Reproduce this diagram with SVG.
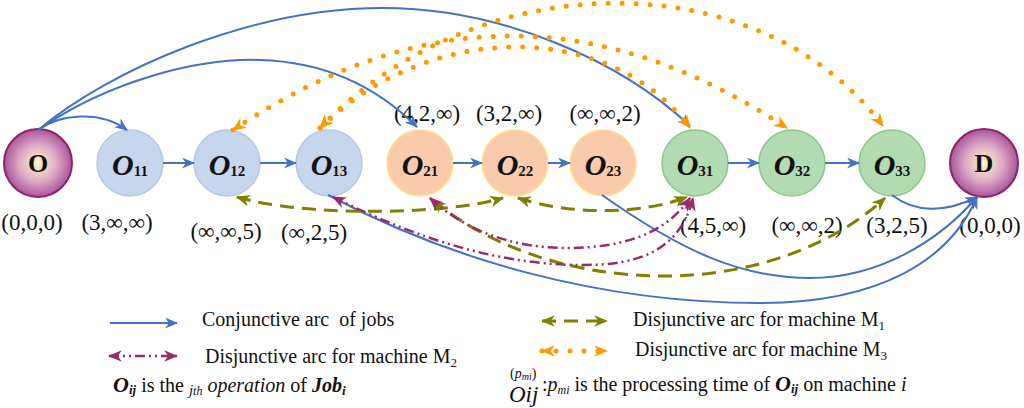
<svg xmlns="http://www.w3.org/2000/svg" width="1024" height="408" viewBox="0 0 1024 408">
<style>
text{font-family:"Liberation Serif","Times New Roman",serif;fill:#111}
.lbl{font-size:23px;text-anchor:middle}
.nt{font-size:30px;font-weight:bold;font-style:italic;text-anchor:middle}
.nt .s{font-size:15px;font-style:normal}
.tn{font-size:26px;font-weight:bold;text-anchor:middle}
.lg{font-size:20px}
.blue{fill:none;stroke:#4472C4;stroke-width:2}
.olive{fill:none;stroke:#808000;stroke-width:3;stroke-dasharray:14 8}
.maroon{fill:none;stroke:#9A2B6A;stroke-width:2.5;stroke-dasharray:10 4 2 4 2 4}
.orange{fill:none;stroke:#FF9900;stroke-width:5;stroke-linecap:round;stroke-dasharray:0 14}
.jb{fill:#C6D6EC;stroke:#B4C7E7;stroke-width:1.5}
.jp{fill:#F9CBAC;stroke:#FFE38A;stroke-width:1.5}
.jg{fill:#B2DBB2;stroke:#8CC68C;stroke-width:1.5}
.term{fill:url(#tg);stroke:#8E2462;stroke-width:2}
</style>
<defs>
<radialGradient id="tg" cx="0.5" cy="0.5" r="0.5">
<stop offset="0" stop-color="#FFF8C6"/>
<stop offset="0.55" stop-color="#DDA9C6"/>
<stop offset="1" stop-color="#A8559C"/>
</radialGradient>
<marker id="ab" viewBox="0 0 12 10" refX="11" refY="5" markerWidth="13" markerHeight="11" orient="auto-start-reverse" markerUnits="userSpaceOnUse"><path d="M0,0 L12,5 L0,10 L3.5,5 z" fill="#4472C4"/></marker>
<marker id="ao" viewBox="0 0 12 10" refX="11" refY="5" markerWidth="14" markerHeight="12" orient="auto-start-reverse" markerUnits="userSpaceOnUse"><path d="M0,0 L12,5 L0,10 L3.5,5 z" fill="#FF9900"/></marker>
<marker id="av" viewBox="0 0 12 10" refX="11" refY="5" markerWidth="14" markerHeight="12" orient="auto-start-reverse" markerUnits="userSpaceOnUse"><path d="M0,0 L12,5 L0,10 L3.5,5 z" fill="#808000"/></marker>
<marker id="am" viewBox="0 0 12 10" refX="11" refY="5" markerWidth="14" markerHeight="12" orient="auto-start-reverse" markerUnits="userSpaceOnUse"><path d="M0,0 L12,5 L0,10 L3.5,5 z" fill="#9A2B6A"/></marker>
</defs>

<g id="nodes">
<g id="node-O"><circle class="term" cx="38" cy="163" r="34"/><text class="tn" x="38" y="172">O</text></g>
<g id="node-O11"><circle class="jb" cx="130" cy="163" r="33"/><text class="nt" x="130" y="175">O<tspan class="s" dy="1">11</tspan></text></g>
<g id="node-O12"><circle class="jb" cx="227" cy="163" r="33"/><text class="nt" x="227" y="175">O<tspan class="s" dy="1">12</tspan></text></g>
<g id="node-O13"><circle class="jb" cx="329" cy="163" r="33"/><text class="nt" x="329" y="175">O<tspan class="s" dy="1">13</tspan></text></g>
<g id="node-O21"><circle class="jp" cx="420" cy="163" r="33"/><text class="nt" x="420" y="175">O<tspan class="s" dy="1">21</tspan></text></g>
<g id="node-O22"><circle class="jp" cx="515" cy="163" r="33"/><text class="nt" x="515" y="175">O<tspan class="s" dy="1">22</tspan></text></g>
<g id="node-O23"><circle class="jp" cx="603" cy="163" r="33"/><text class="nt" x="603" y="175">O<tspan class="s" dy="1">23</tspan></text></g>
<g id="node-O31"><circle class="jg" cx="695" cy="163" r="33"/><text class="nt" x="695" y="175">O<tspan class="s" dy="1">31</tspan></text></g>
<g id="node-O32"><circle class="jg" cx="792" cy="163" r="33"/><text class="nt" x="792" y="175">O<tspan class="s" dy="1">32</tspan></text></g>
<g id="node-O33"><circle class="jg" cx="892" cy="163" r="33"/><text class="nt" x="892" y="175">O<tspan class="s" dy="1">33</tspan></text></g>
<g id="node-D"><circle class="term" cx="984" cy="163" r="34"/><text class="tn" x="984" y="172">D</text></g>
</g>

<g id="labels">
<text class="lbl" x="32" y="230">(0,0,0)</text>
<text class="lbl" x="117" y="230">(3,∞,∞)</text>
<text class="lbl" x="226" y="239">(∞,∞,5)</text>
<text class="lbl" x="314" y="240">(∞,2,5)</text>
<text class="lbl" x="427" y="121">(4,2,∞)</text>
<text class="lbl" x="509" y="121">(3,2,∞)</text>
<text class="lbl" x="605" y="121">(∞,∞,2)</text>
<text class="lbl" x="713" y="233">(4,5,∞)</text>
<text class="lbl" x="807" y="233">(∞,∞,2)</text>
<text class="lbl" x="897" y="233">(3,2,5)</text>
<text class="lbl" x="990" y="233">(0,0,0)</text>
</g>

<g id="connectors">
<path class="blue" marker-end="url(#ab)" d="M38,130 C60,114 100,110 127,130"/>
<path class="blue" marker-end="url(#ab)" d="M38,130 C110,80 200,58 260,60 C330,62 380,90 417,127"/>
<path class="blue" marker-end="url(#ab)" d="M38,130 C110,70 250,8 383,8 C500,8 620,60 690,126"/>
<path class="blue" marker-end="url(#ab)" d="M163,163 L194,163"/>
<path class="blue" marker-end="url(#ab)" d="M260,163 L296,163"/>
<path class="blue" marker-end="url(#ab)" d="M453,163 L482,163"/>
<path class="blue" marker-end="url(#ab)" d="M548,163 L570,163"/>
<path class="blue" marker-end="url(#ab)" d="M728,163 L759,163"/>
<path class="blue" marker-end="url(#ab)" d="M825,163 L859,163"/>
<path class="blue" marker-end="url(#ab)" d="M328,195 C450,260 600,303 760,303 C880,303 950,260 977,197"/>
<path class="blue" marker-end="url(#ab)" d="M602,195 C680,250 740,278 810,278 C880,278 940,240 977,197"/>
<path class="blue" marker-end="url(#ab)" d="M892,195 C915,213 945,213 977,197"/>
<path class="orange" marker-start="url(#ao)" marker-end="url(#ao)" d="M233,130 C420,5 600,5 787,128"/>
<path class="orange" marker-start="url(#ao)" marker-end="url(#ao)" d="M320,128 C430,20 610,20 690,128"/>
<path class="orange" marker-start="url(#ao)" marker-end="url(#ao)" d="M320,128 C480,-38 760,-38 883,126"/>
<path class="olive" marker-start="url(#av)" marker-end="url(#av)" d="M237,197 C300,216 440,216 503,198"/>
<path class="olive" marker-start="url(#av)" marker-end="url(#av)" d="M518,198 C570,215 640,215 687,197"/>
<path class="olive" marker-start="url(#av)" marker-end="url(#av)" d="M433,200 C480,240 560,275 660,276 C760,277 840,240 885,198"/>
<path class="maroon" marker-start="url(#am)" marker-end="url(#am)" d="M333,197 C420,240 500,265 583,265 C640,265 680,250 693,198"/>
<path class="maroon" marker-start="url(#am)" marker-end="url(#am)" d="M430,198 C470,235 520,248 567,248 C620,248 665,235 690,198"/>
</g>

<g id="legend">
<path class="blue" marker-end="url(#ab)" d="M110,323 L177,323"/>
<text class="lg" x="202" y="326" xml:space="preserve">Conjunctive arc  of jobs</text>
<path class="maroon" marker-start="url(#am)" marker-end="url(#am)" d="M109,356 L177,356"/>
<text class="lg" x="205" y="363">Disjunctive arc for machine M<tspan font-size="13" dy="4">2</tspan></text>
<text class="lg" x="113" y="392"><tspan font-weight="bold" font-style="italic" font-size="22">O</tspan><tspan font-weight="bold" font-style="italic" font-size="13" dy="2">ij</tspan><tspan dy="-2"> is the </tspan><tspan font-style="italic" font-size="15" dy="3">j</tspan><tspan font-style="italic" font-size="12">th</tspan><tspan font-style="italic" dy="-3"> operation</tspan><tspan> of </tspan><tspan font-weight="bold" font-style="italic">Job</tspan><tspan font-weight="bold" font-style="italic" font-size="13" dy="3">i</tspan></text>
<path class="olive" marker-start="url(#av)" marker-end="url(#av)" d="M542,321 L607,321"/>
<text class="lg" x="633" y="326">Disjunctive arc for machine M<tspan font-size="13" dy="4">1</tspan></text>
<path class="orange" marker-start="url(#ao)" marker-end="url(#ao)" d="M542,351 L607,351"/>
<text class="lg" x="635" y="356">Disjunctive arc for machine M<tspan font-size="13" dy="4">3</tspan></text>
<text x="510" y="378" font-size="14">(<tspan font-style="italic">p</tspan><tspan font-style="italic" font-size="10" dy="2">mi</tspan><tspan dy="-2">)</tspan></text>
<text x="509" y="402" font-size="23" font-style="italic">Oij</text>
<text x="542" y="391" font-size="20">:<tspan font-style="italic">p</tspan><tspan font-style="italic" font-size="12" dy="3">mi</tspan><tspan dy="-3"> is the processing time of </tspan><tspan font-weight="bold" font-style="italic" font-size="22">O</tspan><tspan font-weight="bold" font-style="italic" font-size="13" dy="2">ij</tspan><tspan dy="-2"> on machine </tspan><tspan font-style="italic">i</tspan></text>
</g>
</svg>
